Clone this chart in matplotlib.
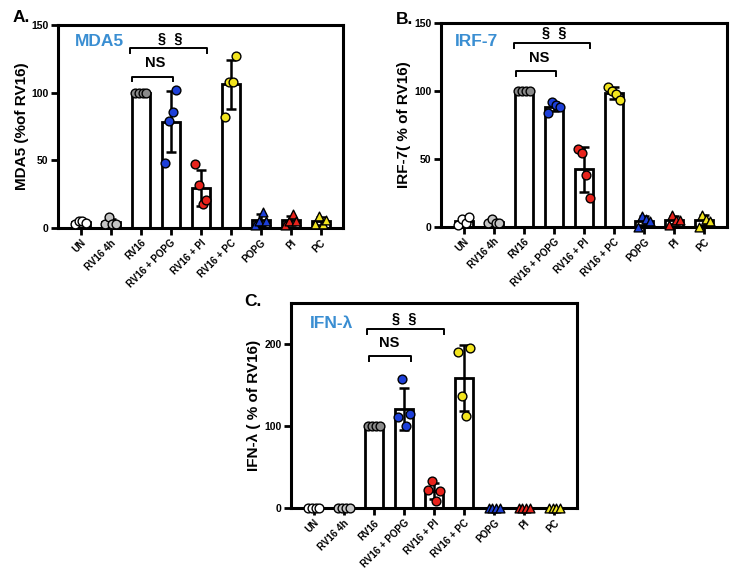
import numpy as np
import matplotlib
matplotlib.use("Agg")
import matplotlib.pyplot as plt

plt.rcParams['font.family'] = ['Liberation Sans', 'DejaVu Sans']
plt.rcParams['font.weight'] = 'bold'

categories = ["UN", "RV16 4h", "RV16", "RV16 + POPG", "RV16 + PI", "RV16 + PC", "POPG", "PI", "PC"]
colors = ["#ffffff", "#c4c4c4", "#8a8a8a", "#1d3fd8", "#e8231c", "#f2e41e", "#1d3fd8", "#e8231c", "#f2e41e"]
markers = ["o", "o", "o", "o", "o", "o", "^", "^", "^"]

mda5 = [[3, 5, 5, 4], [3, 8, 3, 3], [100, 100, 100, 100], [48, 79, 86, 102], [47, 32, 18, 21],
        [82, 108, 108, 127], [2, 5, 12, 5], [2, 5, 10, 5], [3, 9, 3, 6]]
irf7 = [[1.5, 6, 3, 7], [2.5, 5.5, 2.5, 3], [100, 100, 100, 100], [84, 92, 90, 88], [57, 54, 38, 21],
        [103, 100, 98, 93], [0, 8, 5.5, 4.5], [1.5, 9, 5, 5], [0, 9, 5.5, 4.5]]
ifnl = [[0, 0, 0, 0], [0, 0, 0, 0], [100, 100, 100, 100], [111, 158, 100, 115], [22, 33, 9, 21],
        [190, 137, 112, 195], [0, 0, 0, 0], [0, 0, 0, 0], [0, 0, 0, 0]]

W, H = 737, 577

panels = [
    dict(data=mda5, name="MDA5", letter="A.", ylabel="MDA5 (%of RV16)", ylim=150, yticks=[0, 50, 100, 150],
         rect=[0.0787, 0.605, 0.387, 0.351], letter_xy=(30, 18), name_xy=(75, 42), labelpad=1.5,
         ss=(133, 140), ss_x=(-0.36, 0.2), ns=(112, 122), ns_x=(-0.3, 0.08), tick=3.5),
    dict(data=irf7, name="IRF-7", letter="B.", ylabel="IRF-7( % of RV16)", ylim=150, yticks=[0, 50, 100, 150],
         rect=[0.5984, 0.607, 0.388, 0.353], letter_xy=(413, 20), name_xy=(455, 42), labelpad=2.0,
         ss=(135.5, 142.5), ss_x=(-0.33, 0.2), ns=(114.5, 124.5), ns_x=(-0.27, 0.07), tick=3.5),
    dict(data=ifnl, name="IFN-λ", letter="C.", ylabel="IFN-λ ( % of RV16)", ylim=250, yticks=[0, 100, 200],
         rect=[0.395, 0.1196, 0.388, 0.355], letter_xy=(262, 302), name_xy=(310, 323), labelpad=2.5,
         ss=(218, 231), ss_x=(-0.22, 0.34), ns=(185, 201.5), ns_x=(-0.17, 0.24), tick=6),
]

offsets = np.array([-0.19, -0.065, 0.065, 0.19])

fig = plt.figure(figsize=(W / 100, H / 100), dpi=100)
for p in panels:
    ax = fig.add_axes(p["rect"])
    x = np.arange(len(categories))
    means = [np.mean(v) for v in p["data"]]
    sds = [np.std(v, ddof=1) for v in p["data"]]
    ax.bar(x, means, width=0.6, color="white", edgecolor="black", linewidth=2.0, zorder=2)
    for i, vals in enumerate(p["data"]):
        if sds[i] > 0.01:
            ax.errorbar(x[i], means[i], yerr=sds[i], fmt="none", ecolor="black", elinewidth=1.8,
                        capsize=3.5, capthick=1.8, zorder=3)
        ax.scatter(x[i] + offsets, vals, s=40, marker=markers[i], c=colors[i], edgecolors="black",
                   linewidths=1.0, zorder=4, clip_on=False)
    ax.set_xlim(-0.75, 8.75)
    ax.set_ylim(0, p["ylim"])
    ax.set_yticks(p["yticks"])
    ax.set_xticks(x)
    ax.set_xticklabels(categories, rotation=45, ha="right", rotation_mode="anchor", fontsize=7, fontweight="bold")
    for lab in ax.get_yticklabels():
        lab.set_fontsize(7.5)
        lab.set_fontweight("bold")
    ax.tick_params(axis="both", width=2.0, length=5, direction="out", pad=2)
    for s in ax.spines.values():
        s.set_linewidth(2.2)
    ax.set_ylabel(p["ylabel"], fontsize=11, fontweight="bold", labelpad=p["labelpad"])
    fig.text(p["name_xy"][0] / W, 1 - p["name_xy"][1] / H, p["name"], color="#3a8ed2", fontsize=12.5,
             fontweight="bold", ha="left", va="center")
    fig.text(p["letter_xy"][0] / W, 1 - p["letter_xy"][1] / H, p["letter"], fontsize=12.5,
             fontweight="bold", ha="right", va="center")
    t = p["tick"]
    yb, yt = p["ss"]
    l, r = p["ss_x"]
    ax.plot([2 + l, 2 + l, 4 + r, 4 + r], [yb - t, yb, yb, yb - t], color="black", lw=1.4)
    ax.text(3, yt, "§  §", ha="center", va="center", fontsize=10.5, fontweight="bold")
    yb, yt = p["ns"]
    l, r = p["ns_x"]
    ax.plot([2 + l, 2 + l, 3 + r, 3 + r], [yb - t, yb, yb, yb - t], color="black", lw=1.4)
    ax.text(2.5, yt, "NS", ha="center", va="center", fontsize=10.5, fontweight="bold")

fig.savefig("out.png", dpi=100)
